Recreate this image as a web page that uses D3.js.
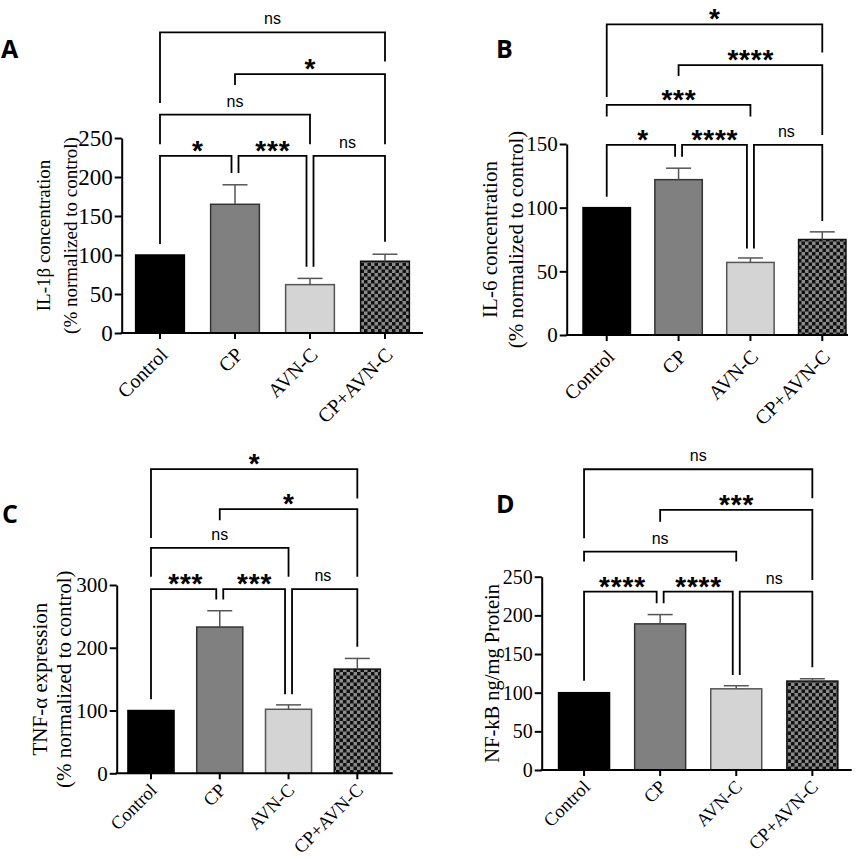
<!DOCTYPE html>
<html>
<head>
<meta charset="utf-8">
<script src="https://cdn.jsdelivr.net/npm/d3@7"></script>
<style>
  body { margin: 0; background: #fff; }
  svg { display: block; }
</style>
</head>
<body>
<script>
// groups on the x axis, same for all four panels
const categories = ["Control", "CP", "AVN-C", "CP+AVN-C"];

// A: IL-1b
const il1bMean = [100, 165, 62, 92];
const il1bErr = [0, 25, 8, 9];
const il1bTicks = [0, 50, 100, 150, 200, 250];
// [from, to, label, bracket level, left leg end, right leg end] (data units)
const il1bComps = [
  [0, 1, "*", 227, 114, 205],
  [1, 2, "***", 227, 205, 85],
  [2, 3, "ns", 227, 85, 117],
  [0, 2, "ns", 280, 242, 242],
  [1, 3, "*", 332, 318, 242],
  [0, 3, "ns", 385.5, 295, 348]
];

// B: IL-6
const il6Mean = [100, 122, 57, 75];
const il6Err = [0, 9, 3.5, 6];
const il6Ticks = [0, 50, 100, 150];
const il6Comps = [
  [0, 1, "*", 149.3, 108.6, 140],
  [1, 2, "****", 149.3, 140, 68],
  [2, 3, "ns", 149.3, 68, 89.6],
  [0, 2, "***", 180.7, 171.5, 171.5],
  [1, 3, "****", 212, 203.5, 157],
  [0, 3, "*", 244, 187, 221.8]
];

// C: TNF-a
const tnfMean = [100, 233, 102, 166];
const tnfErr = [0, 26, 7, 17];
const tnfTicks = [0, 100, 200, 300];
const tnfComps = [
  [0, 1, "***", 293.5, 117.8, 277],
  [1, 2, "***", 293.5, 277, 125.8],
  [2, 3, "ns", 293.5, 125.8, 201.6],
  [0, 2, "ns", 359, 313, 313],
  [1, 3, "*", 421, 403, 313],
  [0, 3, "*", 484.5, 375, 438]
];

// D: NF-kB
const nfkbMean = [100, 189, 105, 115];
const nfkbErr = [0, 12, 4, 3];
const nfkbTicks = [0, 50, 100, 150, 200, 250];
const nfkbComps = [
  [0, 1, "****", 230.7, 115.5, 215.6],
  [1, 2, "****", 230.7, 215.6, 123],
  [2, 3, "ns", 230.7, 123, 132.8],
  [0, 2, "ns", 282.4, 269.5, 269.5],
  [1, 3, "***", 336.4, 321, 245.8],
  [0, 3, "ns", 389, 299.7, 351.5]
];

const serif = "'Liberation Serif', 'Times New Roman', serif";
const sans = "'Liberation Sans', Arial, sans-serif";

let svg = d3.select("body").append("svg")
  .attr("width", 865)
  .attr("height", 859)
  .style("background", "#fff");

// checkerboard fill for the combined group
let defs = svg.append("defs");
let pat = defs.append("pattern")
  .attr("id", "checker")
  .attr("patternUnits", "userSpaceOnUse")
  .attr("width", 7)
  .attr("height", 7);
pat.append("rect").attr("width", 7).attr("height", 7).attr("fill", "#8a8a8a");
pat.append("rect").attr("width", 3.5).attr("height", 3.5).attr("fill", "#111");
pat.append("rect").attr("x", 3.5).attr("y", 3.5).attr("width", 3.5).attr("height", 3.5).attr("fill", "#111");

const barFill = ["#000", "#808080", "#d4d4d4", "url(#checker)"];
const barStroke = ["#000", "#333", "#555", "#111"];

function drawPanel(p) {
  let g = svg.append("g");

  let x = d3.scaleBand()
    .domain(categories)
    .range([p.bandL, p.bandR])
    .paddingInner(p.pad)
    .paddingOuter(p.pad / 2);

  let y = d3.scaleLinear()
    .domain([0, d3.max(p.ticks)])
    .range([p.y0, p.yTop]);

  // panel letter
  g.append("text")
    .attr("x", p.lx)
    .attr("y", p.ly)
    .style("font-family", "'Open Sans', " + sans)
    .style("font-weight", "bold")
    .style("font-size", "25px")
    .text(p.letter);

  // bars
  g.selectAll("rect.bar")
    .data(p.mean)
    .enter()
    .append("rect")
    .attr("class", "bar")
    .attr("x", (d, i) => x(categories[i]))
    .attr("y", d => y(d))
    .attr("width", x.bandwidth())
    .attr("height", d => y(0) - y(d))
    .attr("fill", (d, i) => barFill[i])
    .attr("stroke", (d, i) => barStroke[i])
    .attr("stroke-width", 1.5);

  // error bars (upper only)
  p.mean.forEach((m, i) => {
    if (!p.err[i]) return;
    let cx = x(categories[i]) + x.bandwidth() / 2;
    g.append("line")
      .attr("x1", cx).attr("x2", cx)
      .attr("y1", y(m)).attr("y2", y(m + p.err[i]))
      .attr("stroke", "#555").attr("stroke-width", 1.5);
    g.append("line")
      .attr("x1", cx - 12.5).attr("x2", cx + 12.5)
      .attr("y1", y(m + p.err[i])).attr("y2", y(m + p.err[i]))
      .attr("stroke", "#555").attr("stroke-width", 1.5);
  });

  // y axis
  let yAxis = g.append("g")
    .attr("transform", `translate(${p.axisX},0)`)
    .call(d3.axisLeft(y).tickValues(p.ticks).tickSize(7).tickSizeOuter(0).tickPadding(2));
  yAxis.select(".domain").attr("stroke", "#000").attr("stroke-width", 2);
  yAxis.selectAll(".tick line").attr("stroke", "#000").attr("stroke-width", 2);
  yAxis.selectAll(".tick text")
    .style("font-family", serif)
    .style("font-size", p.tickFont + "px")
    .attr("fill", "#000");

  // x axis
  let xAxis = g.append("g")
    .attr("transform", `translate(0,${p.y0})`)
    .call(d3.axisBottom(x).tickSize(6).tickSizeOuter(0));
  xAxis.select(".domain").remove();
  xAxis.selectAll(".tick line").attr("stroke", "#000").attr("stroke-width", 2);
  xAxis.selectAll(".tick text")
    .attr("y", 0)
    .attr("dy", 0)
    .attr("text-anchor", "end")
    .attr("transform", `translate(${p.xOff[0]},${p.xOff[1]}) rotate(-45)`)
    .style("font-family", serif)
    .style("font-size", p.xFont + "px")
    .attr("fill", "#000");
  g.append("line")
    .attr("x1", p.axisX - 1).attr("x2", p.axisEnd)
    .attr("y1", p.y0).attr("y2", p.y0)
    .attr("stroke", "#000").attr("stroke-width", 2);

  // y title
  let yc = (p.y0 + p.yTop) / 2;
  p.titles.forEach((t, k) => {
    g.append("text")
      .attr("transform", `translate(${p.titleX[k]},${yc}) rotate(-90)`)
      .attr("text-anchor", "middle")
      .attr("dy", "0.35em")
      .style("font-family", serif)
      .style("font-size", p.titleFont + "px")
      .text(t);
  });

  // significance brackets
  let center = i => x(categories[i]) + x.bandwidth() / 2;
  p.comps.forEach(c => {
    let [a, b, label, lev, lb, rb] = c;
    let xl = center(a), xr = center(b);
    // shift legs apart where two brackets meet at the same level
    if (p.comps.some(o => o !== c && o[3] === lev && o[1] === a)) xl += 3.5;
    if (p.comps.some(o => o !== c && o[3] === lev && o[0] === b)) xr -= 3.5;
    g.append("path")
      .attr("d", `M${xl},${y(lb)}V${y(lev)}H${xr}V${y(rb)}`)
      .attr("fill", "none")
      .attr("stroke", "#000")
      .attr("stroke-width", 1.8);
    let isNs = label === "ns";
    g.append("text")
      .attr("x", (center(a) + center(b)) / 2 + (isNs ? 0 : 0.4))
      .attr("y", y(lev) + (isNs ? -8 : 4))
      .attr("text-anchor", "middle")
      .style("font-family", sans)
      .style("font-size", isNs ? "16px" : "28px")
      .style("font-weight", isNs ? "normal" : "bold")
      .style("letter-spacing", isNs ? "0px" : "0.8px")
      .text(label);
  });
}

drawPanel({
  letter: "A", lx: 1, ly: 58,
  axisX: 121.7, axisEnd: 423, y0: 333, yTop: 138,
  bandL: 122.5, bandR: 422.5, pad: 0.35,
  ticks: il1bTicks, tickFont: 23, xFont: 20, xOff: [9, 23],
  titles: ["IL-1\u03B2 concentration", "(% normalized to control)"],
  titleX: [43, 70], titleFont: 19,
  mean: il1bMean, err: il1bErr, comps: il1bComps
});

drawPanel({
  letter: "B", lx: 496, ly: 58,
  axisX: 566.7, axisEnd: 848, y0: 335, yTop: 144,
  bandL: 570.8, bandR: 858.2, pad: 0.34,
  ticks: il6Ticks, tickFont: 21, xFont: 20, xOff: [9, 23],
  titles: ["IL-6 concentration", "(% normalized to control)"],
  titleX: [490, 516], titleFont: 21,
  mean: il6Mean, err: il6Err, comps: il6Comps
});

drawPanel({
  letter: "C", lx: 2, ly: 523,
  axisX: 116.7, axisEnd: 392.7, y0: 773.3, yTop: 585,
  bandL: 116.6, bandR: 391.7, pad: 0.33,
  ticks: tnfTicks, tickFont: 21, xFont: 18.5, xOff: [7, 18],
  titles: ["TNF-\u03B1 expression", "(% normalized to control)"],
  titleX: [40, 64], titleFont: 21,
  mean: tnfMean, err: tnfErr, comps: tnfComps
});

drawPanel({
  letter: "D", lx: 496, ly: 513,
  axisX: 541.7, axisEnd: 851.7, y0: 770, yTop: 576.7,
  bandL: 546, bandR: 850.4, pad: 0.33,
  ticks: nfkbTicks, tickFont: 20, xFont: 18.5, xOff: [7, 18],
  titles: ["NF-kB ng/mg Protein"],
  titleX: [491.7], titleFont: 20.5,
  mean: nfkbMean, err: nfkbErr, comps: nfkbComps
});
</script>
</body>
</html>
